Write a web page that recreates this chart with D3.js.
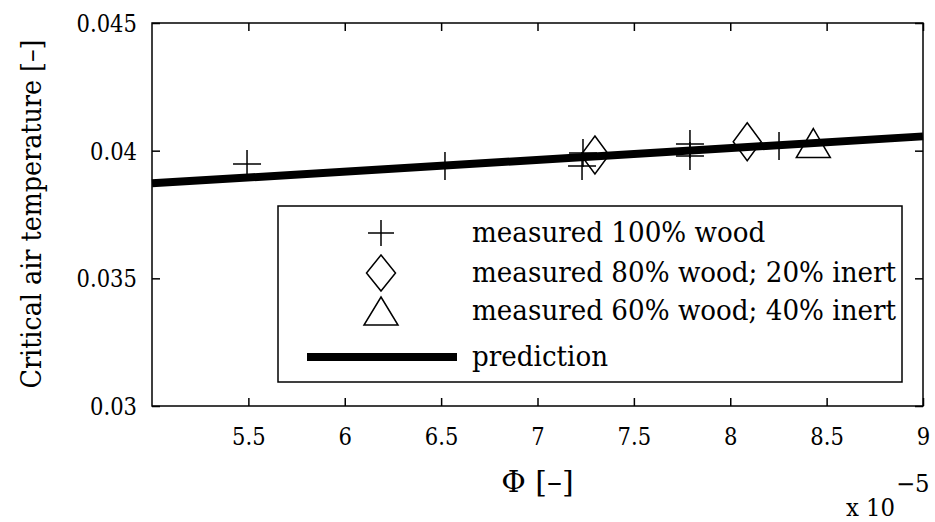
<!DOCTYPE html>
<html>
<head>
<meta charset="utf-8">
<script src="https://cdn.jsdelivr.net/npm/d3@7"></script>
</head>
<body style="margin:0;padding:0;background:#fff;">
<svg id="chart" width="935" height="522" style="display:block;background:#fff;"></svg>
<script>
// Measured critical air temperature vs. Phi (x in units of 1e-5)
const wood100X = [5.493, 6.520, 7.231, 7.236, 7.791, 7.791, 8.253];
const wood100Y = [0.03948, 0.0394, 0.0394, 0.03991, 0.03979, 0.04026, 0.04018];

const wood80X = [7.298, 8.088];
const wood80Y = [0.03983, 0.04035];

const wood60X = [8.431];
const wood60Y = [0.0403];

// Model prediction
const predX = [5, 9];
const predY = [0.03872, 0.04056];

const xTicks = [5.5, 6, 6.5, 7, 7.5, 8, 8.5, 9];
const yTicks = [0.03, 0.035, 0.04, 0.045];

const legendLabels = [
  "measured 100% wood",
  "measured 80% wood; 20% inert",
  "measured 60% wood; 40% inert",
  "prediction"
];

const SERIF = "DejaVu Serif";

const svg = d3.select("#chart");
const L = 152, R = 923, T = 23, B = 406;

const x = d3.scaleLinear().domain([5, 9]).range([L, R]);
const y = d3.scaleLinear().domain([0.03, 0.045]).range([B, T]);

const tickFont = 24;
const labelFont = 27;

const serifText = (s, size) => s.attr("font-family", SERIF).attr("font-size", size).attr("fill", "#000");

// Squeeze the wide serif face slightly so text keeps a Times-like width
function condense(sel, k) {
  sel.each(function () {
    const n = this.getComputedTextLength();
    d3.select(this).attr("textLength", n * k).attr("lengthAdjust", "spacingAndGlyphs");
  });
}

// Axes box
svg.append("rect")
  .attr("x", L).attr("y", T).attr("width", R - L).attr("height", B - T)
  .attr("fill", "none").attr("stroke", "#000").attr("stroke-width", 1.5);

function styleAxis(g) {
  g.attr("font-family", SERIF).attr("font-size", null);
  g.select(".domain").remove();
  g.selectAll(".tick line").attr("stroke", "#000").attr("stroke-width", 1.5);
}

// Bottom axis with labels, ticks pointing inward
const gx = svg.append("g").attr("transform", `translate(0,${B})`)
  .call(d3.axisBottom(x).tickValues(xTicks).tickSizeInner(-8).tickSizeOuter(0)
    .tickFormat(d => String(d)));
styleAxis(gx);
gx.selectAll("text").attr("y", 39).attr("dy", null).call(serifText, tickFont).call(condense, 0.88);

// Top axis: ticks only
const gt = svg.append("g").attr("transform", `translate(0,${T})`)
  .call(d3.axisTop(x).tickValues(xTicks).tickSizeInner(-8).tickSizeOuter(0).tickFormat(""));
styleAxis(gt);

// Left axis with labels
const gy = svg.append("g").attr("transform", `translate(${L},0)`)
  .call(d3.axisLeft(y).tickValues(yTicks).tickSizeInner(-8).tickSizeOuter(0)
    .tickFormat(d => String(d)));
styleAxis(gy);
gy.selectAll("text").attr("x", -15).attr("dy", "0.36em").call(serifText, tickFont).call(condense, 0.88);

// Right axis: ticks only
const gr = svg.append("g").attr("transform", `translate(${R},0)`)
  .call(d3.axisRight(y).tickValues(yTicks).tickSizeInner(-8).tickSizeOuter(0).tickFormat(""));
styleAxis(gr);

// Axis labels
svg.append("text")
  .attr("transform", `translate(41,214) rotate(-90)`)
  .attr("text-anchor", "middle")
  .call(serifText, labelFont)
  .text("Critical air temperature [–]")
  .call(condense, 0.94);

svg.append("text")
  .attr("x", (L + R) / 2).attr("y", 492)
  .attr("text-anchor", "middle")
  .call(serifText, 30)
  .text("Φ [–]");

svg.append("text").attr("x", 846).attr("y", 516).call(serifText, tickFont).text("x 10").call(condense, 0.95);
svg.append("text").attr("x", 896).attr("y", 492).call(serifText, tickFont).text("−5").call(condense, 0.95);

// Marker shapes
const plusPath = h => `M${-h},0H${h}M0,${-h}V${h}`;
const diamondPath = (hx, hy) => `M0,${-hy}L${hx},0L0,${hy}L${-hx},0Z`;
const trianglePath = (w, h) => `M0,${-h / 2}L${w / 2},${h / 2}L${-w / 2},${h / 2}Z`;

const markerStyle = s => s.attr("fill", "none").attr("stroke", "#000").attr("stroke-width", 1.5);

const plots = svg.append("g");

const zip = (xs, ys) => xs.map((v, i) => [v, ys[i]]);

plots.selectAll(".p100").data(zip(wood100X, wood100Y)).join("path")
  .attr("class", "p100")
  .attr("transform", d => `translate(${x(d[0])},${y(d[1])})`)
  .attr("d", plusPath(14))
  .call(markerStyle);

plots.selectAll(".p80").data(zip(wood80X, wood80Y)).join("path")
  .attr("class", "p80")
  .attr("transform", d => `translate(${x(d[0])},${y(d[1])})`)
  .attr("d", diamondPath(14, 19))
  .call(markerStyle);

plots.selectAll(".p60").data(zip(wood60X, wood60Y)).join("path")
  .attr("class", "p60")
  .attr("transform", d => `translate(${x(d[0])},${y(d[1])})`)
  .attr("d", trianglePath(34, 29))
  .call(markerStyle);

// Prediction line
const line = d3.line().x(d => x(d[0])).y(d => y(d[1]));
plots.append("path")
  .datum(zip(predX, predY))
  .attr("d", line)
  .attr("fill", "none").attr("stroke", "#000").attr("stroke-width", 8);

// Legend
const lg = svg.append("g");
lg.append("rect")
  .attr("x", 278).attr("y", 206).attr("width", 624).attr("height", 176)
  .attr("fill", "#fff").attr("stroke", "#000").attr("stroke-width", 1.5);

const rowY = [233, 273, 311, 357];
const symX = 381;

lg.append("path").attr("transform", `translate(${symX},${rowY[0]})`)
  .attr("d", plusPath(13)).call(markerStyle);
lg.append("path").attr("transform", `translate(${symX},${rowY[1]})`)
  .attr("d", diamondPath(14.5, 18)).call(markerStyle);
lg.append("path").attr("transform", `translate(${symX},${rowY[2]})`)
  .attr("d", trianglePath(34, 28)).call(markerStyle);
lg.append("line")
  .attr("x1", 307).attr("x2", 457).attr("y1", rowY[3]).attr("y2", rowY[3])
  .attr("stroke", "#000").attr("stroke-width", 8);

lg.selectAll(".lt").data(legendLabels).join("text")
  .attr("class", "lt")
  .attr("x", 472)
  .attr("y", (d, i) => rowY[i] + 9)
  .call(serifText, labelFont)
  .text(d => d)
  .call(condense, 0.97);
</script>
</body>
</html>
